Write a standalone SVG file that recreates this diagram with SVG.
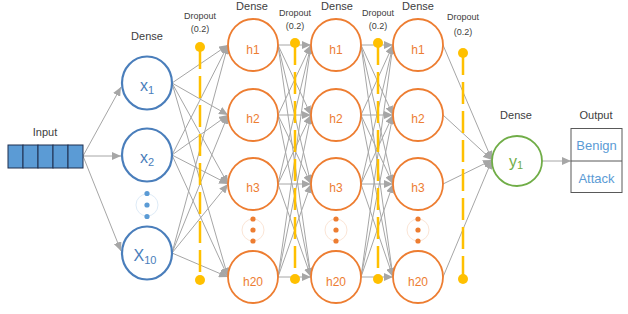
<svg xmlns="http://www.w3.org/2000/svg" width="628" height="314" viewBox="0 0 628 314">
<defs>
<marker id="arr" markerUnits="userSpaceOnUse" markerWidth="10" markerHeight="8" refX="9" refY="4" orient="auto">
<path d="M0,0 L9,4 L0,8 Z" fill="#A6A6A6"/>
</marker>
<style>
.lbl{font-family:"Liberation Sans",Arial,sans-serif;font-size:11px;fill:#404040;text-anchor:middle}
.dl{font-family:"Liberation Sans",Arial,sans-serif;font-size:9px;fill:#404040;text-anchor:middle}
.xn{fill:#fff;stroke:#4A7EBB;stroke-width:2.2}
.hn{fill:#fff;stroke:#ED7D31;stroke-width:1.8}
.yn{fill:#fff;stroke:#70AD47;stroke-width:1.8}
.xt{font-family:"Liberation Sans",Arial,sans-serif;font-size:16px;fill:#4A7EBB;text-anchor:middle}
.ht{font-family:"Liberation Sans",Arial,sans-serif;font-size:12px;fill:#ED7D31;text-anchor:middle}
.yt{font-family:"Liberation Sans",Arial,sans-serif;font-size:16px;fill:#70AD47;text-anchor:middle}
.ot{font-family:"Liberation Sans",Arial,sans-serif;font-size:13px;fill:#5B9BD5;text-anchor:middle}
.e{stroke:#A6A6A6;stroke-width:1;fill:none;marker-end:url(#arr)}
.dline{stroke:#FFC000;stroke-width:2.5;stroke-dasharray:22 7;fill:none}
.ddot{fill:#FFC000}
.cell{fill:#5B9BD5;stroke:#1F2F4F;stroke-width:1}
</style>
</defs>
<rect width="628" height="314" fill="#fff"/>

<g id="connectors">
<!-- input to x -->
<line class="e" x1="83" y1="156" x2="121" y2="87"/>
<line class="e" x1="83" y1="156" x2="121" y2="156"/>
<line class="e" x1="83" y1="156" x2="121" y2="251"/>
<!-- x to layer1 -->
<line class="e" x1="172" y1="83" x2="228" y2="45"/>
<line class="e" x1="172" y1="83" x2="228" y2="115"/>
<line class="e" x1="172" y1="83" x2="228" y2="184"/>
<line class="e" x1="172" y1="83" x2="228" y2="277"/>
<line class="e" x1="172" y1="155" x2="228" y2="45"/>
<line class="e" x1="172" y1="155" x2="228" y2="115"/>
<line class="e" x1="172" y1="155" x2="228" y2="184"/>
<line class="e" x1="172" y1="155" x2="228" y2="277"/>
<line class="e" x1="172" y1="253" x2="228" y2="45"/>
<line class="e" x1="172" y1="253" x2="228" y2="115"/>
<line class="e" x1="172" y1="253" x2="228" y2="184"/>
<line class="e" x1="172" y1="253" x2="228" y2="277"/>
<!-- layer1 to layer2 -->
<line class="e" x1="278" y1="45" x2="311" y2="45"/>
<line class="e" x1="278" y1="45" x2="311" y2="115"/>
<line class="e" x1="278" y1="45" x2="311" y2="184"/>
<line class="e" x1="278" y1="45" x2="311" y2="277"/>
<line class="e" x1="278" y1="115" x2="311" y2="45"/>
<line class="e" x1="278" y1="115" x2="311" y2="115"/>
<line class="e" x1="278" y1="115" x2="311" y2="184"/>
<line class="e" x1="278" y1="115" x2="311" y2="277"/>
<line class="e" x1="278" y1="184" x2="311" y2="45"/>
<line class="e" x1="278" y1="184" x2="311" y2="115"/>
<line class="e" x1="278" y1="184" x2="311" y2="184"/>
<line class="e" x1="278" y1="184" x2="311" y2="277"/>
<line class="e" x1="278" y1="277" x2="311" y2="45"/>
<line class="e" x1="278" y1="277" x2="311" y2="115"/>
<line class="e" x1="278" y1="277" x2="311" y2="184"/>
<line class="e" x1="278" y1="277" x2="311" y2="277"/>
<!-- layer2 to layer3 -->
<line class="e" x1="361" y1="45" x2="393" y2="45"/>
<line class="e" x1="361" y1="45" x2="393" y2="115"/>
<line class="e" x1="361" y1="45" x2="393" y2="184"/>
<line class="e" x1="361" y1="45" x2="393" y2="277"/>
<line class="e" x1="361" y1="115" x2="393" y2="45"/>
<line class="e" x1="361" y1="115" x2="393" y2="115"/>
<line class="e" x1="361" y1="115" x2="393" y2="184"/>
<line class="e" x1="361" y1="115" x2="393" y2="277"/>
<line class="e" x1="361" y1="184" x2="393" y2="45"/>
<line class="e" x1="361" y1="184" x2="393" y2="115"/>
<line class="e" x1="361" y1="184" x2="393" y2="184"/>
<line class="e" x1="361" y1="184" x2="393" y2="277"/>
<line class="e" x1="361" y1="277" x2="393" y2="45"/>
<line class="e" x1="361" y1="277" x2="393" y2="115"/>
<line class="e" x1="361" y1="277" x2="393" y2="184"/>
<line class="e" x1="361" y1="277" x2="393" y2="277"/>
<!-- layer3 to y1 -->
<line class="e" x1="443" y1="45" x2="492" y2="160"/>
<line class="e" x1="443" y1="115" x2="492" y2="160"/>
<line class="e" x1="443" y1="184" x2="492" y2="160"/>
<line class="e" x1="443" y1="277" x2="492" y2="160"/>
<!-- y1 to output -->
<line class="e" x1="542" y1="161" x2="571" y2="161"/>
</g>

<g id="input">
<text class="lbl" x="45" y="135.5">Input</text>
<rect class="cell" x="8" y="145" width="15" height="23"/>
<rect class="cell" x="23" y="145" width="15" height="23"/>
<rect class="cell" x="38" y="145" width="15" height="23"/>
<rect class="cell" x="53" y="145" width="15" height="23"/>
<rect class="cell" x="68" y="145" width="15" height="23"/>
</g>

<g id="layer-x">
<text class="lbl" x="147" y="39.5">Dense</text>
<g id="x1"><ellipse class="xn" cx="147" cy="83" rx="25" ry="26.5"/><text class="xt" x="147" y="91">x<tspan font-size="11" dy="3">1</tspan></text></g>
<g id="x2"><ellipse class="xn" cx="147" cy="155" rx="25" ry="26.5"/><text class="xt" x="147" y="163">x<tspan font-size="11" dy="3">2</tspan></text></g>
<g id="xdots">
<circle cx="147" cy="205" r="11" fill="none" stroke="#DEEBF7" stroke-width="1"/>
<circle cx="147" cy="193.5" r="2.6" fill="#5B9BD5"/>
<circle cx="147" cy="205" r="2.6" fill="#5B9BD5"/>
<circle cx="147" cy="216.5" r="2.6" fill="#5B9BD5"/>
</g>
<g id="x10"><ellipse class="xn" cx="147" cy="253" rx="25" ry="26.5"/><text class="xt" x="145" y="261" font-size="17">X<tspan font-size="11" dy="3">10</tspan></text></g>
</g>

<g id="layer-h1">
<text class="lbl" x="252" y="10">Dense</text>
<g id="l1h1"><ellipse class="hn" cx="253" cy="45" rx="25" ry="26"/><text class="ht" x="253" y="54">h1</text></g>
<g id="l1h2"><ellipse class="hn" cx="253" cy="115" rx="25" ry="26"/><text class="ht" x="253" y="123">h2</text></g>
<g id="l1h3"><ellipse class="hn" cx="253" cy="184" rx="25" ry="26"/><text class="ht" x="253" y="192">h3</text></g>
<g id="l1dots">
<circle cx="253" cy="230" r="11" fill="none" stroke="#FBE5D6" stroke-width="1"/>
<circle cx="253" cy="219" r="2.6" fill="#ED7D31"/>
<circle cx="253" cy="230" r="2.6" fill="#ED7D31"/>
<circle cx="253" cy="241" r="2.6" fill="#ED7D31"/>
</g>
<g id="l1h20"><ellipse class="hn" cx="253" cy="277" rx="25" ry="26"/><text class="ht" x="253" y="286">h20</text></g>
</g>

<g id="layer-h2">
<text class="lbl" x="337" y="10">Dense</text>
<g id="l2h1"><ellipse class="hn" cx="336" cy="45" rx="25" ry="26"/><text class="ht" x="336" y="54">h1</text></g>
<g id="l2h2"><ellipse class="hn" cx="336" cy="115" rx="25" ry="26"/><text class="ht" x="336" y="123">h2</text></g>
<g id="l2h3"><ellipse class="hn" cx="336" cy="184" rx="25" ry="26"/><text class="ht" x="336" y="192">h3</text></g>
<g id="l2dots">
<circle cx="336" cy="230" r="11" fill="none" stroke="#FBE5D6" stroke-width="1"/>
<circle cx="336" cy="219" r="2.6" fill="#ED7D31"/>
<circle cx="336" cy="230" r="2.6" fill="#ED7D31"/>
<circle cx="336" cy="241" r="2.6" fill="#ED7D31"/>
</g>
<g id="l2h20"><ellipse class="hn" cx="336" cy="277" rx="25" ry="26"/><text class="ht" x="336" y="286">h20</text></g>
</g>

<g id="layer-h3">
<text class="lbl" x="418" y="10">Dense</text>
<g id="l3h1"><ellipse class="hn" cx="418" cy="45" rx="25" ry="26"/><text class="ht" x="418" y="54">h1</text></g>
<g id="l3h2"><ellipse class="hn" cx="418" cy="115" rx="25" ry="26"/><text class="ht" x="418" y="123">h2</text></g>
<g id="l3h3"><ellipse class="hn" cx="418" cy="184" rx="25" ry="26"/><text class="ht" x="418" y="192">h3</text></g>
<g id="l3dots">
<circle cx="418" cy="230" r="11" fill="none" stroke="#FBE5D6" stroke-width="1"/>
<circle cx="418" cy="219" r="2.6" fill="#ED7D31"/>
<circle cx="418" cy="230" r="2.6" fill="#ED7D31"/>
<circle cx="418" cy="241" r="2.6" fill="#ED7D31"/>
</g>
<g id="l3h20"><ellipse class="hn" cx="418" cy="277" rx="25" ry="26"/><text class="ht" x="418" y="286">h20</text></g>
</g>

<g id="dropout1">
<text class="dl" x="200" y="19">Dropout</text>
<text class="dl" x="200" y="32">(0.2)</text>
<line class="dline" x1="200" y1="47" x2="200" y2="280"/>
<circle class="ddot" cx="200" cy="47" r="5"/>
<circle class="ddot" cx="200" cy="280" r="5"/>
</g>
<g id="dropout2">
<text class="dl" x="295" y="16">Dropout</text>
<text class="dl" x="295" y="29">(0.2)</text>
<line class="dline" x1="295" y1="43" x2="295" y2="279"/>
<circle class="ddot" cx="295" cy="43" r="5"/>
<circle class="ddot" cx="295" cy="279" r="5"/>
</g>
<g id="dropout3">
<text class="dl" x="378" y="16">Dropout</text>
<text class="dl" x="378" y="29">(0.2)</text>
<line class="dline" x1="378" y1="43" x2="378" y2="279"/>
<circle class="ddot" cx="378" cy="43" r="5"/>
<circle class="ddot" cx="378" cy="279" r="5"/>
</g>
<g id="dropout4">
<text class="dl" x="463" y="20">Dropout</text>
<text class="dl" x="463" y="35">(0.2)</text>
<line class="dline" x1="463" y1="53" x2="463" y2="279"/>
<circle class="ddot" cx="463" cy="53" r="5"/>
<circle class="ddot" cx="463" cy="279" r="5"/>
</g>

<g id="y1">
<text class="lbl" x="516" y="119">Dense</text>
<circle class="yn" cx="517" cy="161" r="25"/>
<text class="yt" x="516" y="167">y<tspan font-size="11" dy="2">1</tspan></text>
</g>

<g id="output">
<text class="lbl" x="596" y="119">Output</text>
<rect x="571" y="128.5" width="51" height="64" fill="#fff" stroke="#595959" stroke-width="1"/>
<line x1="571" y1="161" x2="622" y2="161" stroke="#595959" stroke-width="1"/>
<text class="ot" x="596.5" y="150">Benign</text>
<text class="ot" x="596.5" y="183">Attack</text>
</g>
</svg>
